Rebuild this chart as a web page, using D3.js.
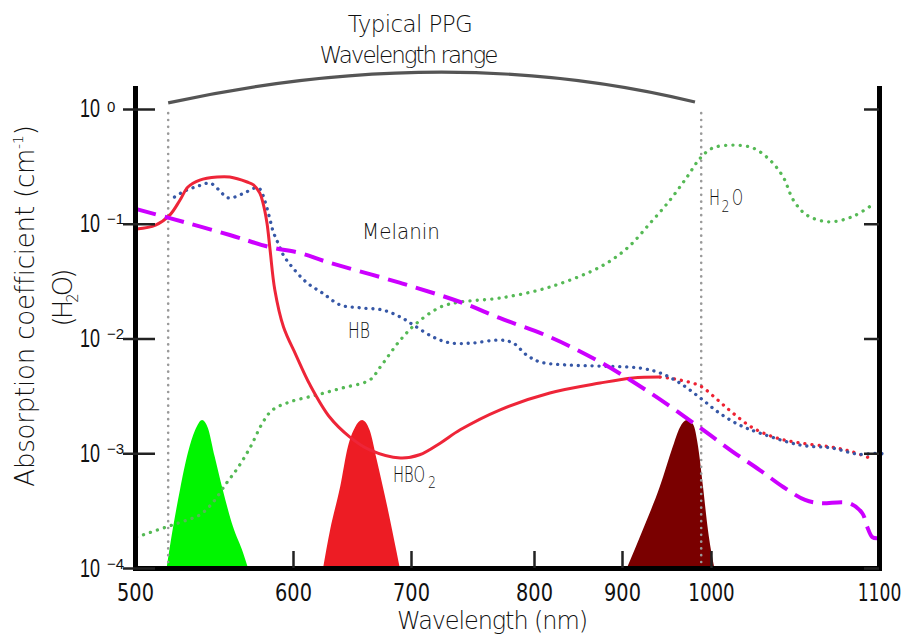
<!DOCTYPE html>
<html>
<head>
<meta charset="utf-8">
<script src="https://cdn.jsdelivr.net/npm/d3@7"></script>
<style>
  body { margin: 0; background: #fff; }
  svg text { font-family: 'DejaVu Sans', sans-serif; font-weight: 200; fill: #111; }
</style>
</head>
<body>
<svg id="chart" width="907" height="634"></svg>
<script>
// ---- data: wavelength (nm), absorption coefficient (cm^-1) ----
const xTicks = [500, 600, 700, 800, 900, 1000, 1100];
const yTicks = [1e-4, 1e-3, 1e-2, 1e-1, 1];
const yTickExp = ["\u22124", "\u22123", "\u22122", "\u22121", "0"];

// oxygenated haemoglobin (solid up to hbo2SolidEnd, dotted beyond)
const hbo2 = [[501,0.090],[513,0.0975],[522,0.119],[528.5,0.161],[533.5,0.209],[541,0.240],[552,0.255],[560,0.255],[571,0.231],[575,0.218],[579,0.185],[581,0.152],[583.5,0.102],[585.5,0.059],[588.5,0.0265],[594,0.0126],[602.5,0.00718],[614.5,0.00393],[631,0.00207],[648,0.00139],[665,0.00107],[691,0.00091],[707,0.00097],[724,0.00123],[740,0.00160],[772,0.00238],[818,0.00335],[875,0.00409],[912,0.00453],[943,0.00461],[965,0.00435],[988,0.00385],[1004,0.00291],[1013,0.00224],[1025,0.00166],[1039,0.00136],[1053,0.00123],[1072,0.00113],[1084,0.00103],[1096,0.00089]];
const hbo2SolidEnd = 943;

// deoxygenated haemoglobin
const hb = [[525,0.171],[531.5,0.193],[540,0.213],[547.5,0.226],[552.5,0.201],[559,0.168],[568,0.182],[576,0.205],[579,0.201],[582,0.161],[585,0.115],[587.5,0.085],[590.5,0.068],[594,0.053],[600,0.0411],[612,0.0305],[625,0.0249],[640,0.0196],[657,0.0185],[676,0.0177],[691,0.0154],[702,0.0131],[718,0.0103],[732,0.00914],[750,0.00914],[772,0.0097],[783,0.00914],[794,0.00718],[807,0.00624],[838,0.00588],[875,0.00575],[920,0.00553],[943,0.00500],[965,0.00409],[988,0.00303],[1005,0.00224],[1017,0.00176],[1029,0.00150],[1053,0.00118],[1072,0.00111],[1088,0.00098],[1100,0.00100],[1104,0.00097]];

// melanin
const melanin = [[501,0.134],[522,0.112],[560,0.0798],[585,0.0627],[606,0.0556],[629,0.0464],[691,0.0305],[740,0.0208],[772,0.0151],[818,0.0103],[875,0.00624],[932,0.00335],[988,0.00166],[1013,0.00103],[1029,0.000714],[1043,0.000508],[1056,0.000392],[1065,0.000368],[1082,0.000368],[1090,0.000301],[1093,0.000228],[1096,0.000186],[1099,0.000182]];

// water
const h2o = [[501,0.000186],[520,0.000228],[533,0.000262],[541,0.000290],[549,0.000368],[558,0.000551],[565,0.000744],[573,0.00113],[581,0.00187],[587,0.00238],[598,0.00280],[620,0.00322],[642,0.00371],[665,0.00435],[674,0.00565],[691,0.00971],[705,0.0137],[724,0.0188],[740,0.0208],[772,0.0225],[818,0.0281],[875,0.0420],[906,0.0615],[932,0.102],[954,0.161],[973,0.255],[988,0.374],[1001,0.457],[1013,0.485],[1025,0.457],[1035,0.360],[1043,0.255],[1049,0.161],[1057,0.119],[1070,0.104],[1084,0.115],[1096,0.146]];

// LED emission spectra: wavelength (nm), relative intensity
const ledGreen = [[520,0],[522,0.14],[528.5,0.53],[533.5,0.78],[538,0.93],[542.5,1.0],[546,0.95],[550.5,0.75],[555.5,0.53],[562,0.28],[568.5,0.10],[571.5,0]];
const ledRed = [[625.5,0],[631.5,0.26],[640,0.55],[646.5,0.82],[652.5,0.95],[658.5,1.0],[665,0.93],[671,0.73],[680,0.41],[688,0.10],[690.5,0]];
const ledIR = [[905.5,0],[923.5,0.26],[942.5,0.55],[957,0.82],[965,0.95],[973,1.0],[980,0.97],[985.5,0.82],[991,0.55],[996.5,0.26],[1002,0]];

// typical PPG wavelength range (nm)
const ppgRange = [521, 989];
const ppgArcEnds = [521, 982];

// ---- layout ----
const svg = d3.select("#chart");
const frame = { left: 135, right: 879, top: 88, bottom: 568 };
// the printed wavelength axis is not uniformly spaced: one range stop per tick
const xStops = [135, 293, 411, 534, 622, 711, 879];

const x = d3.scaleLinear().domain(xTicks).range(xStops);
const y = d3.scaleLog().domain([1e-4, 1.524]).range([frame.bottom, frame.top]);
const yLed = d3.scaleLinear().domain([0, 1]).range([frame.bottom, 420]);

// condense a text horizontally so that it spans the given width
function squeeze(sel, px, py, width) {
  const w = sel.node().getComputedTextLength();
  sel.attr("transform", `translate(${px},${py}) scale(${(width / w).toFixed(4)},1)`);
  return sel;
}
// widen the letter spacing of a text to a given width
function fitSpacing(sel, width) {
  const node = sel.node();
  const n = node.textContent.length;
  const w = node.getComputedTextLength();
  sel.attr("letter-spacing", ((width - w) / Math.max(1, n - 1)).toFixed(2));
  return sel;
}
// printed width of a numeral in the tick font
const numeralWidth = s => d3.sum(s.split(""), c => (c === "1" ? 9.5 : 12.3));

// ---- LED emission bands ----
const area = d3.area()
  .x(d => x(d[0])).y0(frame.bottom).y1(d => yLed(d[1]))
  .curve(d3.curveMonotoneX);
[[ledGreen, "#00f500"], [ledRed, "#ed1c24"], [ledIR, "#7a0000"]].forEach(([d, c]) => {
  svg.append("path").datum(d).attr("d", area).attr("fill", c);
});

// ---- PPG range markers ----
const g = svg.append("g");
ppgRange.forEach(w => {
  g.append("line")
    .attr("x1", x(w)).attr("x2", x(w))
    .attr("y1", y(0.92)).attr("y2", frame.bottom)
    .attr("stroke", "#9a9a9a").attr("stroke-width", 2.6)
    .attr("stroke-linecap", "round").attr("stroke-dasharray", "0.1 6.7");
});
const arc = d3.path();
const ax0 = x(ppgArcEnds[0]), ax1 = x(ppgArcEnds[1]);
arc.moveTo(ax0, y(1.13));
arc.quadraticCurveTo((ax0 + ax1) / 2 + 16, y(3.85), ax1, y(1.15));
g.append("path").attr("d", arc.toString())
  .attr("fill", "none").attr("stroke", "#555").attr("stroke-width", 3.2);

// ---- absorption curves ----
const line = d3.line().x(d => x(d[0])).y(d => y(d[1])).curve(d3.curveCatmullRom.alpha(0.5));

function curve(data, color, width, dash, cap) {
  svg.append("path").datum(data).attr("d", line)
    .attr("fill", "none").attr("stroke", color).attr("stroke-width", width)
    .attr("stroke-dasharray", dash || null)
    .attr("stroke-linecap", cap || "butt").attr("stroke-linejoin", "round");
}

curve(h2o, "#55b955", 3.3, "0.1 7.2", "round");
curve(hbo2.filter(d => d[0] >= hbo2SolidEnd), "#ee2233", 3.3, "0.1 7", "round");
curve(hb, "#3657a6", 3.3, "0.1 6.8", "round");
curve(hbo2.filter(d => d[0] <= hbo2SolidEnd), "#ee2538", 3);
curve(melanin, "#cc00ff", 4, "20 9");

// ---- axes ----
const xAxis = svg.append("g")
  .attr("transform", `translate(0,${frame.bottom})`)
  .call(d3.axisBottom(x).tickValues(xTicks).tickSize(-17).tickSizeOuter(0).tickPadding(16).tickFormat(d3.format("d")));
xAxis.select(".domain").attr("stroke", "#000").attr("stroke-width", 5).attr("stroke-linecap", "square");
xAxis.selectAll(".tick line").attr("stroke", "#222").attr("stroke-width", 2.5);
xAxis.selectAll(".tick text")
  .attr("font-size", 24).attr("fill", "#111")
  .style("font-weight", 400)
  .each(function () {
    const t = d3.select(this);
    const w = this.getComputedTextLength();
    t.attr("transform", `scale(${(numeralWidth(t.text()) / w).toFixed(4)},1)`);
  });

const yAxis = svg.append("g")
  .attr("transform", `translate(${frame.left},0)`)
  .call(d3.axisLeft(y).tickValues(yTicks).tickSize(-20).tickSizeOuter(0).tickFormat(""));
yAxis.select(".domain").attr("stroke", "#000").attr("stroke-width", 5).attr("stroke-linecap", "square");
yAxis.selectAll(".tick line").attr("x1", -12).attr("stroke", "#222").attr("stroke-width", 2.5);
yAxis.selectAll(".tick").each(function (d, i) {
  const t = d3.select(this);
  squeeze(t.append("text").attr("text-anchor", "end").attr("font-size", 25)
    .style("font-family", "'Liberation Sans', sans-serif").style("font-weight", 400)
    .text("10"), -35, 8, 20);
  t.append("text").attr("x", -28).attr("y", i === yTicks.length - 1 ? 3 : 0)
    .attr("text-anchor", "start").attr("font-size", 15)
    .style("font-family", "'Liberation Sans', sans-serif").style("font-weight", 400)
    .text(yTickExp[i]);
});

const yAxisR = svg.append("g")
  .attr("transform", `translate(${frame.right},0)`)
  .call(d3.axisRight(y).tickValues(yTicks).tickSize(-15).tickSizeOuter(0).tickFormat(""));
yAxisR.select(".domain").attr("stroke", "#000").attr("stroke-width", 5).attr("stroke-linecap", "square");
yAxisR.selectAll(".tick line").attr("stroke", "#222").attr("stroke-width", 2.5);

// ---- titles and labels ----
fitSpacing(svg.append("text").attr("x", 410).attr("y", 32).attr("text-anchor", "middle")
  .attr("font-size", 23).text("Typical PPG"), 125);
fitSpacing(svg.append("text").attr("x", 408).attr("y", 63).attr("text-anchor", "middle")
  .attr("font-size", 23).text("Wavelength range"), 179);

fitSpacing(svg.append("text").attr("x", 492).attr("y", 629).attr("text-anchor", "middle")
  .attr("font-size", 24).text("Wavelength (nm)"), 191);

const yt = svg.append("text").attr("transform", "translate(34,306) rotate(-90)")
  .attr("text-anchor", "middle").attr("font-size", 26);
yt.append("tspan").text("Absorption coefficient (cm");
yt.append("tspan").attr("font-size", 14).attr("dy", -11).text("-1");
yt.append("tspan").attr("dy", 11).text(")");
fitSpacing(yt, 361);

const yt2 = svg.append("text").attr("transform", "translate(72,299) rotate(-90)")
  .attr("text-anchor", "middle").attr("font-size", 26);
yt2.append("tspan").text("(H");
yt2.append("tspan").attr("font-size", 15).attr("dy", 6).text("2");
yt2.append("tspan").attr("dy", -6).text("O)");
fitSpacing(yt2, 58);

squeeze(svg.append("text").attr("font-size", 22).text("Melanin"), 362, 239, 78);
squeeze(svg.append("text").attr("font-size", 22).text("HB"), 348, 338, 22);

squeeze(svg.append("text").attr("font-size", 22).text("HBO"), 393, 482, 32);
squeeze(svg.append("text").attr("font-size", 15).text("2"), 428, 488, 8);

squeeze(svg.append("text").attr("font-size", 22).text("H"), 709, 205, 11);
squeeze(svg.append("text").attr("font-size", 15).text("2"), 721.5, 212, 8);
squeeze(svg.append("text").attr("font-size", 22).text("O"), 732, 205, 11);
</script>
</body>
</html>
